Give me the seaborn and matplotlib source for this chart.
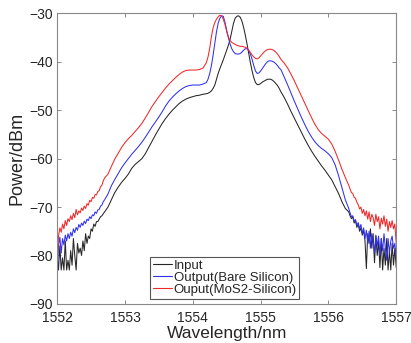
import numpy as np
import pandas as pd
import matplotlib
matplotlib.use("Agg")
import matplotlib.pyplot as plt
import seaborn as sns

# wavelength sampling (nm): dense in the noisy tails and around the peaks
wl = np.round(np.concatenate([
    np.arange(1552.00, 1552.701, 0.02),   # left tail, 36 pts
    np.arange(1552.75, 1554.151, 0.05),   # left slope, 29 pts
    np.arange(1554.20, 1555.301, 0.025),  # peak region, 45 pts
    np.arange(1555.35, 1556.251, 0.05),   # right slope, 19 pts
    np.arange(1556.30, 1557.001, 0.02),   # right tail, 36 pts
]), 3)

# Input (dBm)
p_input = [
    -80.0, -83.0, -78.0, -83.0, -80.5, -83.0,
    -77.0, -83.0, -81.0, -83.0, -79.0, -82.0,
    -76.5, -80.0, -83.0, -77.5, -79.5, -78.5,
    -80.0, -77.0, -79.0, -75.5, -77.5, -76.0,
    -76.5, -74.5, -75.0, -73.5, -74.0, -73.0,
    -73.0, -72.5, -72.0, -71.8, -71.4, -71.0,
    # left slope
    -70.0, -68.5, -67.0, -65.9, -64.9, -64.1, -63.2, -62.0, -61.2, -60.6,
    -60.0, -59.0, -57.7, -56.4, -55.1, -53.9, -52.7, -51.7, -50.8, -50.0,
    -49.3, -48.6, -48.1, -47.7, -47.4, -47.2, -47.0, -46.9, -46.7,
    # peak region
    -46.6, -46.5, -46.3, -46.0, -45.5, -44.8, -43.6, -42.4, -41.4, -40.5,
    -39.6, -38.6, -37.6, -36.6, -35.4, -33.7, -32.1, -31.0, -30.6, -30.5,
    -30.8, -31.6, -32.9, -34.5, -36.3, -38.3, -40.2, -41.9, -43.3, -44.3,
    -44.7, -44.7, -44.5, -44.2, -44.0, -43.8, -43.6, -43.6, -43.6, -43.8,
    -44.1, -44.5, -44.9, -45.5, -46.2,
    # right slope
    -47.4, -48.8, -50.3, -51.7, -53.1, -54.5, -55.9, -57.2, -58.4, -59.5,
    -60.5, -61.5, -62.4, -63.4, -64.4, -65.8, -67.2, -68.9, -70.3,
    # right tail
    -71.0, -71.8, -72.4, -72.0, -73.3, -72.8,
    -74.2, -73.5, -75.0, -74.3, -75.8, -74.8,
    -77.0, -82.7, -75.5, -77.5, -74.5, -78.5,
    -75.5, -81.5, -76.0, -80.0, -77.0, -82.5,
    -76.5, -83.0, -78.5, -82.0, -76.5, -83.0,
    -79.0, -83.0, -77.5, -82.0, -78.5, -82.5,
]

# Output (bare silicon)
p_bare = [
    -85.0, -78.0, -76.2, -79.5, -76.5, -77.8,
    -75.8, -77.0, -75.5, -76.5, -75.2, -76.0,
    -74.5, -75.3, -74.2, -74.8, -73.6, -74.2,
    -73.3, -73.8, -72.9, -73.4, -72.5, -72.8,
    -72.0, -72.4, -71.6, -71.8, -71.0, -71.3,
    -70.6, -70.5, -69.8, -69.6, -68.9, -68.5,
    # left slope
    -67.3, -65.6, -64.3, -63.1, -61.9, -60.9, -60.0, -59.1, -58.3, -57.5,
    -56.6, -55.6, -54.5, -53.4, -52.4, -51.4, -50.3, -49.1, -48.1, -47.3,
    -46.6, -46.0, -45.5, -45.1, -44.9, -44.8, -44.8, -44.8, -44.6,
    # peak region
    -44.3, -43.6, -42.4, -40.8, -38.6, -36.2, -33.8, -32.0, -31.0, -30.5,
    -30.6, -31.8, -33.5, -35.0, -36.3, -37.3, -37.9, -38.3, -38.4, -38.4,
    -38.3, -38.0, -37.6, -37.3, -37.3, -37.7, -38.4, -39.5, -40.8, -41.9,
    -42.4, -42.3, -41.9, -41.4, -40.9, -40.4, -40.0, -39.8, -39.8, -39.9,
    -40.1, -40.4, -40.8, -41.3, -41.6,
    # right slope
    -43.2, -44.8, -46.5, -48.2, -49.8, -51.4, -52.9, -54.3, -55.5, -56.5,
    -57.3, -57.9, -58.4, -59.0, -59.8, -61.3, -63.5, -66.0, -68.5,
    # right tail
    -70.3, -71.2, -72.0, -71.8, -72.9, -72.6,
    -73.8, -73.2, -74.5, -73.6, -75.5, -74.3,
    -76.5, -74.8, -77.5, -75.0, -78.5, -75.5,
    -77.0, -79.5, -75.8, -78.0, -76.0, -80.0,
    -76.5, -79.0, -75.5, -78.5, -81.0, -76.5,
    -79.5, -77.0, -76.0, -78.5, -77.5, -80.5,
]

# Output (MoS2 on silicon)
p_mos2 = [
    -81.5, -76.0, -74.3, -75.2, -73.5, -74.5,
    -72.8, -73.8, -72.4, -73.0, -71.8, -72.6,
    -71.3, -72.2, -70.5, -71.6, -70.8, -71.2,
    -70.2, -70.7, -69.8, -70.3, -69.3, -69.6,
    -68.6, -68.9, -68.0, -68.2, -67.4, -67.5,
    -66.8, -66.6, -65.8, -65.5, -64.6, -64.0,
    # left slope
    -63.2, -61.6, -60.1, -58.9, -57.7, -56.7, -55.9, -55.2, -54.4, -53.6,
    -52.7, -51.6, -50.4, -49.2, -48.2, -47.2, -46.3, -45.4, -44.6, -43.9,
    -43.2, -42.6, -42.1, -41.8, -41.7, -41.7, -41.7, -41.6, -41.3,
    # peak region
    -40.2, -39.0, -37.2, -34.8, -33.0, -31.9, -31.2, -30.7, -30.4, -30.5,
    -31.2, -32.3, -33.7, -34.9, -35.6, -36.0, -36.2, -36.4, -36.6, -36.7,
    -36.8, -36.8, -36.9, -37.0, -37.2, -37.6, -38.1, -38.6, -39.0, -39.3,
    -39.4, -39.2, -38.8, -38.4, -38.0, -37.7, -37.5, -37.4, -37.4, -37.5,
    -37.7, -38.0, -38.4, -38.9, -39.5,
    # right slope
    -40.3, -41.3, -42.6, -44.0, -45.5, -47.0, -48.5, -50.0, -51.5, -52.9,
    -54.0, -54.8, -55.4, -56.0, -57.0, -58.5, -60.3, -62.2, -63.9,
    # right tail
    -65.5, -66.3, -67.0, -67.2, -68.0, -68.2,
    -69.0, -69.5, -70.4, -70.0, -71.3, -70.5,
    -71.8, -70.8, -72.5, -71.0, -73.0, -71.5,
    -72.2, -73.8, -71.5, -73.0, -72.0, -74.5,
    -72.3, -73.5, -71.8, -74.0, -72.5, -75.0,
    -73.0, -74.2, -72.8, -74.5, -73.5, -77.5,
]

labels = ["Input", "Output(Bare Silicon)", "Ouput(MoS2-Silicon)"]
colors = ["#262626", "#3030f0", "#f02828"]

df = pd.concat([
    pd.DataFrame({"wl": wl, "power": p, "series": name})
    for name, p in zip(labels, [p_input, p_bare, p_mos2])
])

sns.set_theme(style="ticks")
plt.rcParams["font.family"] = ["Liberation Sans", "DejaVu Sans"]

fig = plt.figure(figsize=(4.11, 3.43), dpi=100)
ax = fig.add_axes([0.139, 0.114, 0.825, 0.847])

sns.lineplot(data=df, x="wl", y="power", hue="series", hue_order=labels,
             palette=colors, estimator=None, sort=False, linewidth=0.75, ax=ax)

ax.set_xlim(1552, 1557)
ax.set_ylim(-90, -30)
ax.set_xticks([1552, 1553, 1554, 1555, 1556, 1557])
ax.set_yticks([-90, -80, -70, -60, -50, -40, -30])
ax.set_xlabel("Wavelength/nm", fontsize=12.5, labelpad=1)
ax.set_ylabel("Power/dBm", fontsize=13, labelpad=3)
ax.tick_params(direction="in", length=3, width=0.6, color="#777777",
               labelsize=10, top=True, right=True)
ax.tick_params(axis="x", pad=5)
ax.tick_params(axis="y", pad=3)
for s in ax.spines.values():
    s.set_visible(True)
    s.set_color("#888888")
    s.set_linewidth(0.8)

ax.legend(loc="lower center", bbox_to_anchor=(0.494, 0.0), fontsize=9.5,
          handlelength=1.5, handletextpad=0.1, labelspacing=0.0,
          borderpad=0.2, borderaxespad=0.4, fancybox=False,
          edgecolor="#555555", framealpha=1)
for line in ax.get_legend().get_lines():
    line.set_linewidth(0.8)
ax.get_legend().get_frame().set_linewidth(0.8)

fig.savefig("out.png", dpi=100)
